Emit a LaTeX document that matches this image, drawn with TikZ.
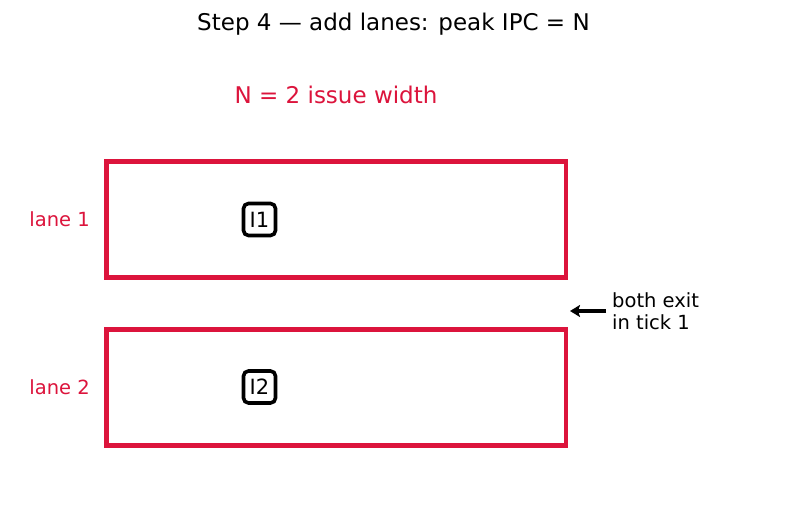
\documentclass[tikz,border=0pt]{standalone}
\usepackage{fontspec}
\setmainfont{DejaVu Sans}
\usetikzlibrary{arrows.meta}
\definecolor{crim}{RGB}{220,20,60}
\tikzset{
  lanebox/.style={draw=crim, line width=4.5pt, minimum width=459.5pt, minimum height=116pt, inner sep=0pt},
  instr/.style={draw=black, line width=3.6pt, rounded corners=5pt, minimum width=32pt, minimum height=32pt, inner sep=0pt, font=\fontsize{21}{24}\selectfont},
  lbl/.style={text=crim, font=\fontsize{19.5}{22}\selectfont, anchor=east, inner sep=0pt},
  big/.style={font=\fontsize{23}{27}\selectfont, inner sep=0pt},
}
\begin{document}
\begin{tikzpicture}[x=1pt,y=-1pt]
\useasboundingbox[fill=white] (0,0) rectangle (787,510);
\node[big] (title) at (393.5,24) {Step 4 — add lanes: peak IPC = N};
\node[big, text=crim] (sub) at (336,95) {N = 2 issue width};
\node[lanebox] (lane1) at (336.25,219.75) {};
\node[lanebox] (lane2) at (336.25,387.5) {};
\node[lbl] (l1) at (90,219) {lane 1};
\node[lbl] (l2) at (90,387) {lane 2};
\node[instr] (i1) at (259.5,219.5) {I1};
\node[instr] (i2) at (259.5,387) {I2};
\node[anchor=west, inner sep=0pt, align=left, font=\fontsize{19.5}{22}\selectfont] (note) at (612,311) {both exit\\in tick 1};
\coordinate (tip) at (570,311);
\draw[line width=3.6pt, -{Stealth[length=10pt,width=12pt,inset=2pt]}] ([xshift=-6pt]note.west) -- (tip);
\end{tikzpicture}
\end{document}
